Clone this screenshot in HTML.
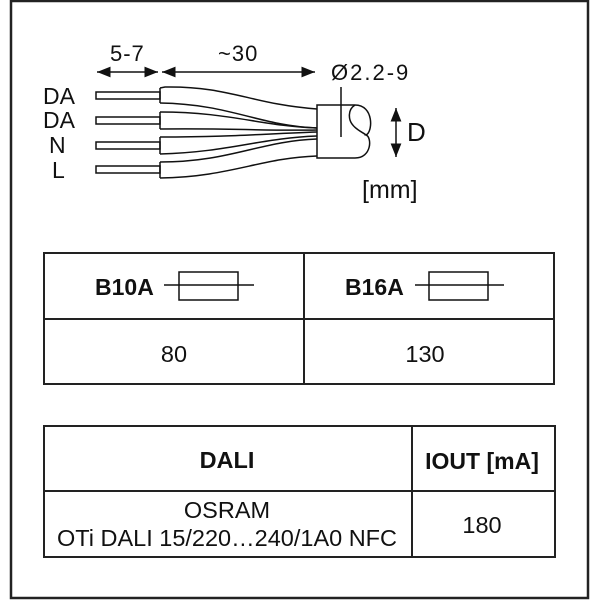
<!DOCTYPE html>
<html><head><meta charset="utf-8"><style>
body{margin:0;background:#fff;}
svg{display:block;}
text{font-family:"Liberation Sans",Arial,sans-serif;fill:#111;}
</style></head><body>
<svg width="600" height="600" viewBox="0 0 600 600" xmlns="http://www.w3.org/2000/svg">
<rect x="11" y="1" width="577" height="597" fill="none" stroke="#222" stroke-width="2.5"/>
<defs><marker id="a" viewBox="0 0 10 10" refX="10" refY="5" markerWidth="9" markerHeight="9" orient="auto-start-reverse"><path d="M0,1 L10,5 L0,9 z" fill="#111"/></marker></defs>
<g stroke="#111" stroke-width="1.5" fill="none">
<line x1="97" y1="72" x2="158" y2="72" marker-start="url(#a)" marker-end="url(#a)"/>
<line x1="162" y1="72" x2="315" y2="72" marker-start="url(#a)" marker-end="url(#a)"/>
<line x1="396" y1="108" x2="396" y2="157" marker-start="url(#a)" marker-end="url(#a)"/>
<rect x="96" y="92" width="64" height="7"/>
<rect x="96" y="117" width="64" height="7"/>
<rect x="96" y="142" width="64" height="7"/>
<rect x="96" y="166" width="64" height="7"/>
<path d="M160,88 L165,87 C230,86 250,104 317,109"/>
<path d="M160,103 L160,88"/>
<path d="M160,103 C230,104 260,126 317,128"/>
<path d="M160,112 L160,129"/>
<path d="M160,112 C230,112 260,126 317,128"/>
<path d="M160,129 C230,128 260,131 317,130"/>
<path d="M160,137 L160,154"/>
<path d="M160,137 C230,137 260,134 317,132"/>
<path d="M160,154 C230,152 260,138 317,136"/>
<path d="M160,162 L160,178"/>
<path d="M160,162 C230,162 260,141 317,139"/>
<path d="M160,178 C230,177 260,158 317,156"/>
<path d="M317,105 L317,158 L355,158 C372,158 372,137 366,135 C373,132 374,105 355,105 Z" fill="#fff"/>
<path d="M355,105 C347,110 349,120 352,124 C356,130 364,133 366,135"/>
<line x1="341" y1="87" x2="341" y2="137"/>
</g>
<text x="110" y="61" font-size="22" letter-spacing="1">5-7</text>
<text x="218" y="61" font-size="22" letter-spacing="1">~30</text>
<text x="331" y="80" font-size="22" letter-spacing="2">Ø2.2-9</text>
<text x="407" y="141" font-size="26">D</text>
<text x="362" y="198" font-size="25">[mm]</text>
<text x="43" y="104" font-size="23">DA</text>
<text x="43" y="128" font-size="23">DA</text>
<text x="49" y="153" font-size="23">N</text>
<text x="52" y="178" font-size="23">L</text>
<g stroke="#222" stroke-width="2" fill="none">
<rect x="44" y="253" width="510" height="131"/>
<line x1="304" y1="253" x2="304" y2="384"/>
<line x1="44" y1="319" x2="554" y2="319"/>
<rect x="44" y="426" width="511" height="131"/>
<line x1="412" y1="426" x2="412" y2="557"/>
<line x1="44" y1="491" x2="555" y2="491"/>
</g>
<g stroke="#111" stroke-width="1.5" fill="none">
<line x1="164" y1="285" x2="254" y2="285"/><rect x="179" y="272" width="59" height="28"/>
<line x1="415" y1="285" x2="504" y2="285"/><rect x="429" y="272" width="59" height="28"/>
</g>
<text x="95" y="295" font-size="23" font-weight="bold">B10A</text>
<text x="345" y="295" font-size="23" font-weight="bold">B16A</text>
<text x="174" y="362" font-size="23.5" text-anchor="middle">80</text>
<text x="425" y="362" font-size="23.5" text-anchor="middle">130</text>
<text x="227" y="468" font-size="23.5" font-weight="bold" text-anchor="middle">DALI</text>
<text x="482" y="469" font-size="23" font-weight="bold" text-anchor="middle">IOUT [mA]</text>
<text x="227" y="518" font-size="23.5" text-anchor="middle">OSRAM</text>
<text x="227" y="546" font-size="23.5" text-anchor="middle">OTi DALI 15/220…240/1A0 NFC</text>
<text x="482" y="533" font-size="23.5" text-anchor="middle">180</text>
</svg>
</body></html>
